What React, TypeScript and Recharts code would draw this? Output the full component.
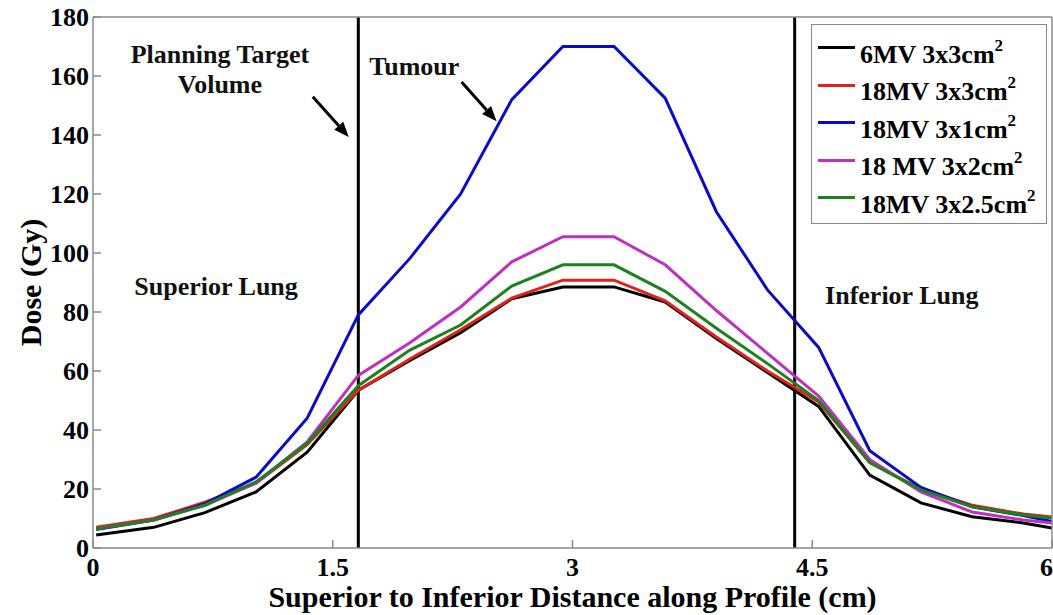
import React from "react";
import { LineChart, Line, XAxis, YAxis, ReferenceLine, ReferenceDot } from "recharts";

const SERIF = '"Liberation Serif", "Times New Roman", serif';

// distance along profile (cm)
const distance = [0.02, 0.38, 0.7, 1.02, 1.34, 1.66, 1.98, 2.3, 2.62, 2.94, 3.26, 3.58, 3.9, 4.22, 4.54, 4.86, 5.18, 5.5, 5.82, 6.0];

// dose (Gy)
const dose6mv3x3 = [4.4, 7, 12, 19, 32.5, 53.5, 63.5, 73, 84.5, 88.5, 88.5, 83.4, 71, 59.5, 48, 24.7, 15.3, 10.6, 8.5, 6.8];
const dose18mv3x3 = [7, 10, 15.5, 22, 35, 53.5, 64, 74, 84.7, 90.8, 90.8, 83.8, 71.5, 60, 49.5, 29, 20, 14.5, 11.5, 10.5];
const dose18mv3x1 = [6.3, 9.5, 15, 24, 44, 79, 98, 120, 152, 170, 170, 152.5, 114, 87.5, 68, 33, 20.5, 14, 11, 9];
const dose18mv3x2 = [6.5, 9.5, 14.5, 22, 36, 58.5, 69.5, 81.7, 97, 105.5, 105.5, 96, 80.5, 66, 51.5, 30, 19, 12.2, 9.5, 8.5];
const dose18mv3x25 = [6.5, 9.5, 14.5, 22.4, 35.5, 55, 67, 75.6, 88.8, 96, 96, 87, 74.5, 62.5, 50, 29, 19.7, 14, 11.2, 10.2];

const xTicks = [0, 1.5, 3, 4.5, 6];
const yTicks = [0, 20, 40, 60, 80, 100, 120, 140, 160, 180];

// region boundaries (cm)
const boundaries = [1.66, 4.39];

const notes = [
  { text: "Planning Target", x: 0.794, y: 167.5 },
  { text: "Volume", x: 0.794, y: 157.3 },
  { text: "Tumour", x: 2.01, y: 163.5 },
  { text: "Superior Lung", x: 0.77, y: 89 },
  { text: "Inferior Lung", x: 5.06, y: 86 },
];

const arrows = [
  [{ x: 1.375, y: 153 }, { x: 1.6, y: 139.3 }],
  [{ x: 2.306, y: 158 }, { x: 2.525, y: 144.7 }],
];

const series = [
  { key: "mv6_3x3", label: "6MV 3x3cm", color: "#000000", values: dose6mv3x3 },
  { key: "mv18_3x3", label: "18MV 3x3cm", color: "#e0221c", values: dose18mv3x3 },
  { key: "mv18_3x1", label: "18MV 3x1cm", color: "#0a0ac8", values: dose18mv3x1 },
  { key: "mv18_3x2", label: "18 MV 3x2cm", color: "#bf30bf", values: dose18mv3x2 },
  { key: "mv18_3x25", label: "18MV 3x2.5cm", color: "#1e801e", values: dose18mv3x25 },
];

const rows = distance.map((d, i) => {
  const row: Record<string, number> = { distance: d };
  series.forEach((s) => {
    row[s.key] = s.values[i];
  });
  return row;
});

const axisStroke = { stroke: "#8a8a8a", strokeWidth: 1.5 };
const tickFont = { fill: "#000", fontSize: 26, fontWeight: 700, fontFamily: SERIF };

function Arrow(p: any) {
  const { x1, y1, x2, y2 } = p;
  const ang = Math.atan2(y2 - y1, x2 - x1);
  const len = 15;
  const half = 6;
  const bx = x2 - len * Math.cos(ang);
  const by = y2 - len * Math.sin(ang);
  const px = -Math.sin(ang) * half;
  const py = Math.cos(ang) * half;
  return (
    <g>
      <line x1={x1} y1={y1} x2={bx} y2={by} stroke="#000" strokeWidth={3} />
      <polygon points={`${x2},${y2} ${bx + px},${by + py} ${bx - px},${by - py}`} fill="#000" />
    </g>
  );
}

export default function App() {
  return (
    <div style={{ position: "absolute", left: 0, top: 0, width: 1053, height: 615, background: "#fff" }}>
      <LineChart width={1053} height={615} data={rows} margin={{ top: 16, right: 0, left: 0, bottom: 0 }}>
        <XAxis
          dataKey="distance"
          type="number"
          domain={[0, 6]}
          ticks={xTicks}
          height={67}
          axisLine={axisStroke}
          tickLine={axisStroke}
          tickSize={-8}
          tickMargin={18}
          tick={tickFont}
          label={{
            value: "Superior to Inferior Distance along Profile (cm)",
            position: "insideBottom",
            offset: 8,
            fill: "#000",
            fontSize: 30,
            fontWeight: 700,
            fontFamily: SERIF,
          }}
        />
        <XAxis
          xAxisId="top"
          orientation="top"
          dataKey="distance"
          type="number"
          domain={[0, 6]}
          ticks={xTicks}
          height={1}
          axisLine={axisStroke}
          tickLine={axisStroke}
          tickSize={-8}
          tick={false}
        />
        <YAxis
          type="number"
          domain={[0, 180]}
          ticks={yTicks}
          width={93}
          axisLine={axisStroke}
          tickLine={axisStroke}
          tickSize={-8}
          tickMargin={12}
          tick={tickFont}
          label={{
            value: "Dose (Gy)",
            angle: -90,
            position: "insideLeft",
            offset: 30,
            style: { textAnchor: "middle" },
            fill: "#000",
            fontSize: 30,
            fontWeight: 700,
            fontFamily: SERIF,
          }}
        />
        <YAxis
          yAxisId="right"
          orientation="right"
          type="number"
          domain={[0, 180]}
          ticks={yTicks}
          width={1}
          axisLine={axisStroke}
          tickLine={axisStroke}
          tickSize={-8}
          tick={false}
        />
        {boundaries.map((b) => (
          <ReferenceLine key={b} x={b} stroke="#000" strokeWidth={3} />
        ))}
        {arrows.map((seg, i) => (
          <ReferenceLine key={"arrow" + i} segment={seg} shape={Arrow} />
        ))}
        {notes.map((n) => (
          <ReferenceDot
            key={n.text}
            x={n.x}
            y={n.y}
            r={0.5}
            fill="none"
            stroke="none"
            label={{
              value: n.text,
              position: "center",
              fill: "#111",
              fontSize: 26,
              fontWeight: 700,
              fontFamily: SERIF,
            }}
          />
        ))}
        {series.map((s) => (
          <Line
            key={s.key}
            dataKey={s.key}
            type="linear"
            stroke={s.color}
            strokeWidth={3}
            dot={false}
            isAnimationActive={false}
          />
        ))}
      </LineChart>
      <div
        style={{
          position: "absolute",
          left: 811,
          top: 24,
          width: 236,
          height: 200,
          boxSizing: "border-box",
          border: "1px solid #8a8a8a",
          background: "#fff",
          paddingTop: 11,
          fontFamily: SERIF,
          fontWeight: 700,
          fontSize: 26,
          color: "#000",
        }}
      >
        {series.map((s) => (
          <div key={s.key} style={{ display: "flex", alignItems: "center", height: 37.5, marginLeft: 6 }}>
            <span
              style={{
                display: "inline-block",
                width: 37,
                height: 3,
                background: s.color,
                marginRight: 5,
                position: "relative",
                top: -7,
              }}
            />
            <span style={{ lineHeight: 1, whiteSpace: "nowrap" }}>
              {s.label}
              <span style={{ fontSize: 17, position: "relative", top: -12 }}>2</span>
            </span>
          </div>
        ))}
      </div>
    </div>
  );
}
